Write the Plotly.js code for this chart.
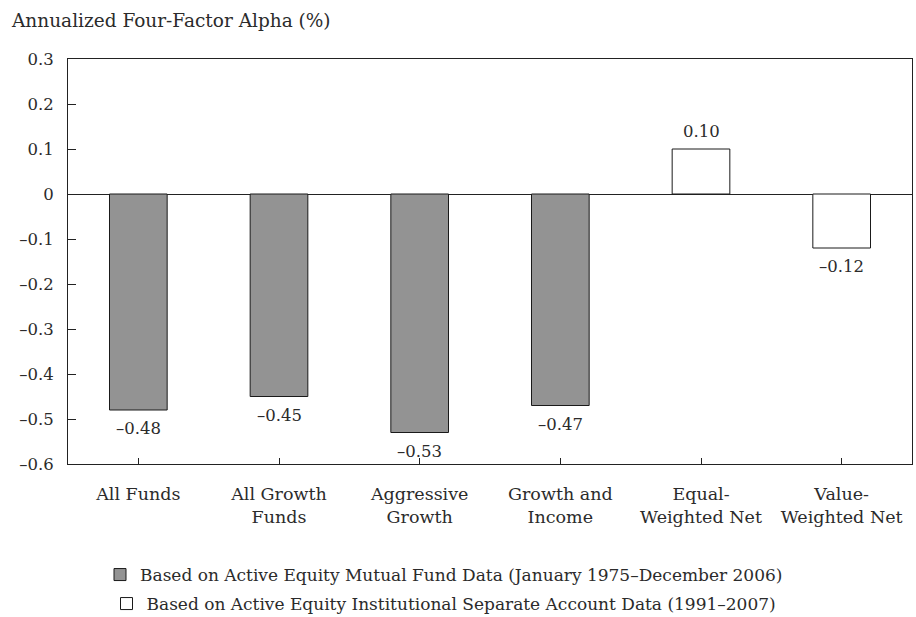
<!DOCTYPE html>
<html>
<head>
<meta charset="utf-8">
<script src="https://cdn.plot.ly/plotly-3.0.1.min.js"></script>
<style>html,body{margin:0;padding:0;background:#fff;}#chart{width:916px;height:617px;}</style>
</head>
<body>
<div id="chart"></div>
<script>
const categories = ['All Funds', 'All Growth<br>Funds', 'Aggressive<br>Growth', 'Growth and<br>Income', 'Equal-<br>Weighted Net', 'Value-<br>Weighted Net'];
const mutualCats = ['All Funds', 'All Growth<br>Funds', 'Aggressive<br>Growth', 'Growth and<br>Income'];
const mutualVals = [-0.48, -0.45, -0.53, -0.47];
const instCats = ['Equal-<br>Weighted Net', 'Value-<br>Weighted Net'];
const instVals = [0.10, -0.12];
const yTickVals = [0.3, 0.2, 0.1, 0, -0.1, -0.2, -0.3, -0.4, -0.5, -0.6];
const yTickText = ['0.3', '0.2', '0.1', '0', '–0.1', '–0.2', '–0.3', '–0.4', '–0.5', '–0.6'];
const seriesNames = ['Based on Active Equity Mutual Fund Data (January 1975–December 2006)', 'Based on Active Equity Institutional Separate Account Data (1991–2007)'];
const chartTitle = 'Annualized Four-Factor Alpha (%)';

const FONT = 'DejaVu Serif';
const FS = 16.5;
const TXT = '#2b2b2b';
const fmt = v => v.toFixed(2).replace('-', '–');

const traces = [
  {type: 'bar', x: mutualCats, y: mutualVals, name: seriesNames[0], width: 0.41,
   marker: {color: '#939393', line: {color: '#1a1a1a', width: 1}}, legend: 'legend', hoverinfo: 'none'},
  {type: 'bar', x: instCats, y: instVals, name: seriesNames[1], width: 0.41,
   marker: {color: '#ffffff', line: {color: '#1a1a1a', width: 1}}, legend: 'legend2', hoverinfo: 'none'}
];

const annos = [];
[[mutualCats, mutualVals], [instCats, instVals]].forEach(([cs, vs]) => {
  vs.forEach((v, i) => annos.push({
    x: cs[i], y: v, xref: 'x', yref: 'y', text: fmt(v), showarrow: false,
    yanchor: v < 0 ? 'top' : 'bottom', yshift: v < 0 ? -7 : 6,
    font: {family: FONT, size: FS, color: TXT}
  }));
});

const layout = {
  width: 916, height: 617,
  margin: {l: 68, r: 4, t: 59, b: 153, autoexpand: false},
  paper_bgcolor: '#fff', plot_bgcolor: '#fff',
  font: {family: FONT, size: FS, color: TXT},
  barmode: 'overlay',
  title: {text: chartTitle, xref: 'container', x: 12/916, xanchor: 'left', yref: 'container', y: 1 - 21/617, yanchor: 'middle',
          font: {family: FONT, size: 18.5, color: TXT}, automargin: false},
  xaxis: {type: 'category', categoryarray: categories, categoryorder: 'array', range: [-0.5, 5.5],
          automargin: false, tickangle: 0,
          showline: true, linecolor: '#222', linewidth: 1, mirror: true,
          ticks: 'inside', ticklen: 6, tickcolor: '#222', tickwidth: 1,
          ticklabelstandoff: 14, showgrid: false, zeroline: false,
          tickfont: {family: FONT, size: 17.5, color: TXT}},
  yaxis: {range: [-0.6, 0.3], tickvals: yTickVals, ticktext: yTickText, automargin: false,
          showline: true, linecolor: '#222', linewidth: 1, mirror: true,
          ticks: 'inside', ticklen: 8, tickcolor: '#222', tickwidth: 1,
          ticklabelstandoff: 10, showgrid: false,
          zeroline: true, zerolinecolor: '#222', zerolinewidth: 1,
          tickfont: {family: FONT, size: FS, color: TXT}},
  showlegend: true,
  legend: {xref: 'container', yref: 'container', x: 444/916, xanchor: 'center', y: 1 - 575/617, yanchor: 'middle',
           font: {family: FONT, size: 17, color: TXT}, bgcolor: 'rgba(0,0,0,0)'},
  legend2: {xref: 'container', yref: 'container', x: 444/916, xanchor: 'center', y: 1 - 604/617, yanchor: 'middle',
           font: {family: FONT, size: 17, color: TXT}, bgcolor: 'rgba(0,0,0,0)'},
  annotations: annos
};

Plotly.newPlot('chart', traces, layout, {staticPlot: true, displayModeBar: false});
</script>
</body>
</html>
